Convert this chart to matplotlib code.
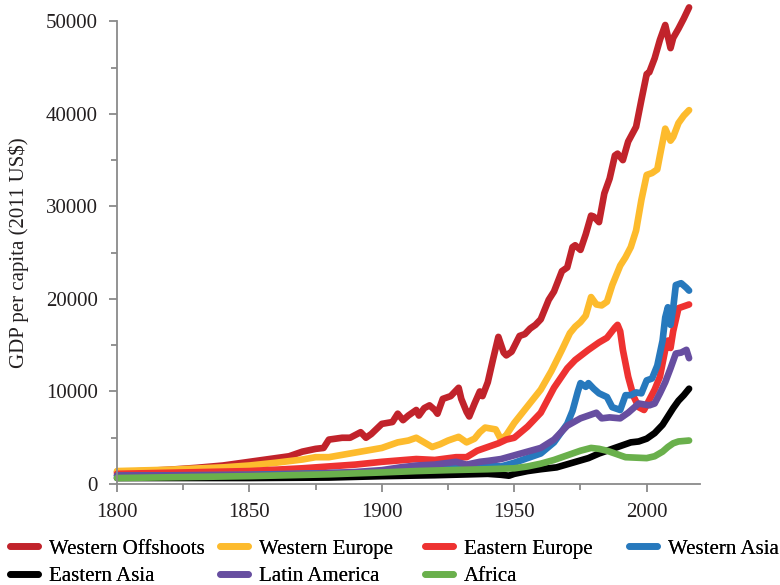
import numpy as np
import matplotlib
matplotlib.use("Agg")
from matplotlib import pyplot as plt
from matplotlib.ticker import MultipleLocator

plt.rcParams['font.family'] = ['Liberation Serif', 'DejaVu Serif']

# Western Offshoots
wo_years = [1800, 1810, 1820, 1830, 1840, 1850, 1860, 1865, 1870, 1875, 1878, 1880, 1885, 1888,
            1892, 1894, 1896, 1900, 1904, 1906, 1908, 1910, 1913, 1914, 1916, 1918, 1920, 1921,
            1923, 1926, 1929, 1930, 1932, 1933, 1935, 1937, 1938, 1940, 1942, 1944, 1946, 1947,
            1949, 1952, 1954, 1956, 1958, 1960, 1963, 1965, 1968, 1970, 1972, 1973, 1975, 1977,
            1979, 1980, 1982, 1984, 1986, 1988, 1989, 1991, 1993, 1996, 1998, 2000, 2001, 2003,
            2005, 2007, 2009, 2010, 2012, 2014, 2016]
wo_gdp = [1300, 1400, 1550, 1750, 2000, 2400, 2800, 3000, 3500, 3800, 3900, 4800, 5000, 5000,
          5600, 5000, 5400, 6500, 6700, 7600, 6900, 7400, 8000, 7400, 8200, 8500, 8000, 7600,
          9200, 9500, 10400, 9200, 7800, 7300, 8700, 10000, 9500, 11000, 13500, 15900, 14200, 13900,
          14300, 16000, 16200, 16800, 17200, 17800, 19900, 20800, 23000, 23400, 25600, 25800, 25300, 27000,
          29000, 28900, 28300, 31400, 33000, 35500, 35700, 35000, 37000, 38600, 41500, 44300, 44500, 46000,
          48000, 49600, 47100, 48200, 49200, 50300, 51500]

# Western Europe
we_years = [1800, 1820, 1840, 1850, 1860, 1870, 1875, 1880, 1890, 1900, 1906, 1910, 1913, 1916,
            1919, 1922, 1925, 1929, 1930, 1932, 1935, 1937, 1939, 1943, 1945, 1947, 1950, 1955,
            1960, 1964, 1968, 1971, 1973, 1975, 1977, 1979, 1981, 1983, 1985, 1987, 1990, 1992,
            1994, 1996, 1998, 2000, 2002, 2004, 2005, 2007, 2009, 2010, 2012, 2014, 2016]
we_gdp = [1400, 1550, 1800, 2000, 2300, 2650, 2900, 2900, 3400, 3900, 4500, 4700, 5000, 4500,
          4000, 4300, 4700, 5100, 4900, 4500, 4900, 5600, 6100, 5900, 4800, 5300, 6600, 8400,
          10200, 12200, 14500, 16300, 17000, 17500, 18200, 20200, 19400, 19300, 19700, 21500, 23600, 24500,
          25600, 27400, 30700, 33400, 33600, 34000, 35500, 38400, 37100, 37500, 39000, 39800, 40400]

# Eastern Europe
ee_years = [1800, 1850, 1870, 1890, 1900, 1913, 1920, 1928, 1932, 1936, 1940, 1944, 1947, 1950,
            1955, 1960, 1965, 1970, 1973, 1978, 1982, 1985, 1988, 1989, 1990, 1991, 1993, 1995,
            1997, 1999, 2001, 2003, 2005, 2007, 2008, 2009, 2010, 2012, 2014, 2016]
ee_gdp = [1100, 1400, 1700, 2100, 2400, 2700, 2600, 2900, 2900, 3600, 4000, 4400, 4800, 5000,
          6200, 7700, 10400, 12500, 13400, 14500, 15300, 15800, 16900, 17200, 16500, 14500, 11600, 9500,
          8300, 8000, 9100, 10200, 11600, 14500, 15500, 14700, 16500, 19000, 19200, 19400]

# Western Asia
wa_years = [1800, 1850, 1900, 1913, 1920, 1930, 1940, 1945, 1950, 1955, 1960, 1965, 1970, 1972,
            1974, 1975, 1977, 1978, 1980, 1982, 1985, 1987, 1990, 1992, 1994, 1996, 1998, 2000,
            2002, 2004, 2006, 2007, 2008, 2009, 2010, 2011, 2013, 2015, 2016]
wa_gdp = [900, 1000, 1300, 1600, 1500, 1900, 2000, 1900, 2300, 2800, 3300, 4500, 6500, 7900,
          10000, 10900, 10500, 10900, 10300, 9800, 9400, 8300, 8000, 9600, 9600, 9900, 9800, 11200,
          11400, 12800, 15500, 18000, 19100, 17200, 19000, 21500, 21700, 21200, 20900]

# Eastern Asia
ea_years = [1800, 1850, 1880, 1900, 1920, 1940, 1945, 1948, 1950, 1955, 1960, 1966, 1972, 1978,
            1982, 1986, 1990, 1994, 1997, 2000, 2003, 2006, 2008, 2010, 2012, 2014, 2016]
ea_gdp = [650, 650, 700, 850, 950, 1100, 1000, 900, 1100, 1400, 1600, 1800, 2300, 2800,
          3300, 3700, 4100, 4500, 4600, 4900, 5500, 6400, 7300, 8200, 9000, 9600, 10300]

# Latin America
la_years = [1800, 1850, 1870, 1890, 1900, 1907, 1913, 1920, 1928, 1932, 1937, 1940, 1945, 1950,
            1955, 1960, 1965, 1970, 1975, 1978, 1981, 1983, 1986, 1990, 1993, 1997, 2001, 2003,
            2005, 2007, 2009, 2011, 2013, 2015, 2016]
la_gdp = [900, 950, 1050, 1300, 1500, 1800, 2000, 2100, 2400, 2100, 2400, 2500, 2700, 3100,
          3500, 3900, 4800, 6300, 7100, 7400, 7700, 7100, 7200, 7100, 7700, 8700, 8500, 8700,
          9800, 11000, 12500, 14100, 14200, 14500, 13600]

# Africa
af_years = [1800, 1850, 1880, 1900, 1913, 1925, 1940, 1950, 1955, 1960, 1965, 1970, 1975, 1979,
            1982, 1985, 1988, 1992, 1996, 2000, 2003, 2006, 2008, 2010, 2012, 2014, 2016]
af_gdp = [650, 850, 1050, 1250, 1400, 1500, 1600, 1700, 1900, 2200, 2600, 3100, 3600, 3900,
          3800, 3600, 3300, 2900, 2850, 2800, 3000, 3500, 4000, 4400, 4600, 4650, 4700]

regions = ["Western Offshoots", "Western Europe", "Eastern Europe", "Western Asia",
           "Eastern Asia", "Latin America", "Africa"]
colors = ["#c1232b", "#fdbb2d", "#ee3231", "#2779bd", "#000000", "#674ea0", "#6ab04c"]
series = [(wo_years, wo_gdp), (we_years, we_gdp), (ee_years, ee_gdp), (wa_years, wa_gdp),
          (ea_years, ea_gdp), (la_years, la_gdp), (af_years, af_gdp)]

fig = plt.figure(figsize=(7.8, 5.85), dpi=100)
ax = fig.add_axes([0.15, 0.1726, 0.747, 0.791])

lines = []
for name, col, (yrs, vals) in zip(regions, colors, series):
    ln, = ax.plot(yrs, vals, color=col, lw=4.8, label=name, clip_on=False,
                  solid_capstyle='round', solid_joinstyle='round')
    lines.append(ln)

ax.set_xlim(1800, 2020)
ax.set_ylim(0, 50000)
ax.xaxis.set_major_locator(MultipleLocator(50))
ax.xaxis.set_minor_locator(MultipleLocator(25))
ax.yaxis.set_major_locator(MultipleLocator(10000))
ax.yaxis.set_minor_locator(MultipleLocator(5000))

for s in ["top", "right"]:
    ax.spines[s].set_visible(False)
for s in ["left", "bottom"]:
    ax.spines[s].set_color("#8a8a8a")
    ax.spines[s].set_linewidth(1.3)
ax.tick_params(which='both', direction='out', color="#8a8a8a", width=1.3,
               labelsize=15, labelcolor="#231f20")
ax.tick_params(which='major', length=6)
ax.tick_params(axis='y', which='major', pad=8)
ax.tick_params(axis='x', which='major', pad=8)
ax.tick_params(which='minor', length=4)

ax.set_ylabel("GDP per capita (2011 US$)", fontsize=15, color="#231f20", labelpad=12)

# legend: two rows, four fixed-position columns
col_items = [[0, 4], [1, 5], [2, 6], [3]]
col_x = [10, 220, 425, 629]
for items, x in zip(col_items, col_x):
    leg = fig.legend([lines[i] for i in items], [regions[i] for i in items],
                     loc='upper left', bbox_to_anchor=(x / 780, 1 - 539 / 585),
                     frameon=False, fontsize=15, handlelength=1.35, handletextpad=0.5,
                     labelspacing=0.38, borderpad=0, borderaxespad=0)
    fig.add_artist(leg)

fig.savefig("out.png", dpi=100)
